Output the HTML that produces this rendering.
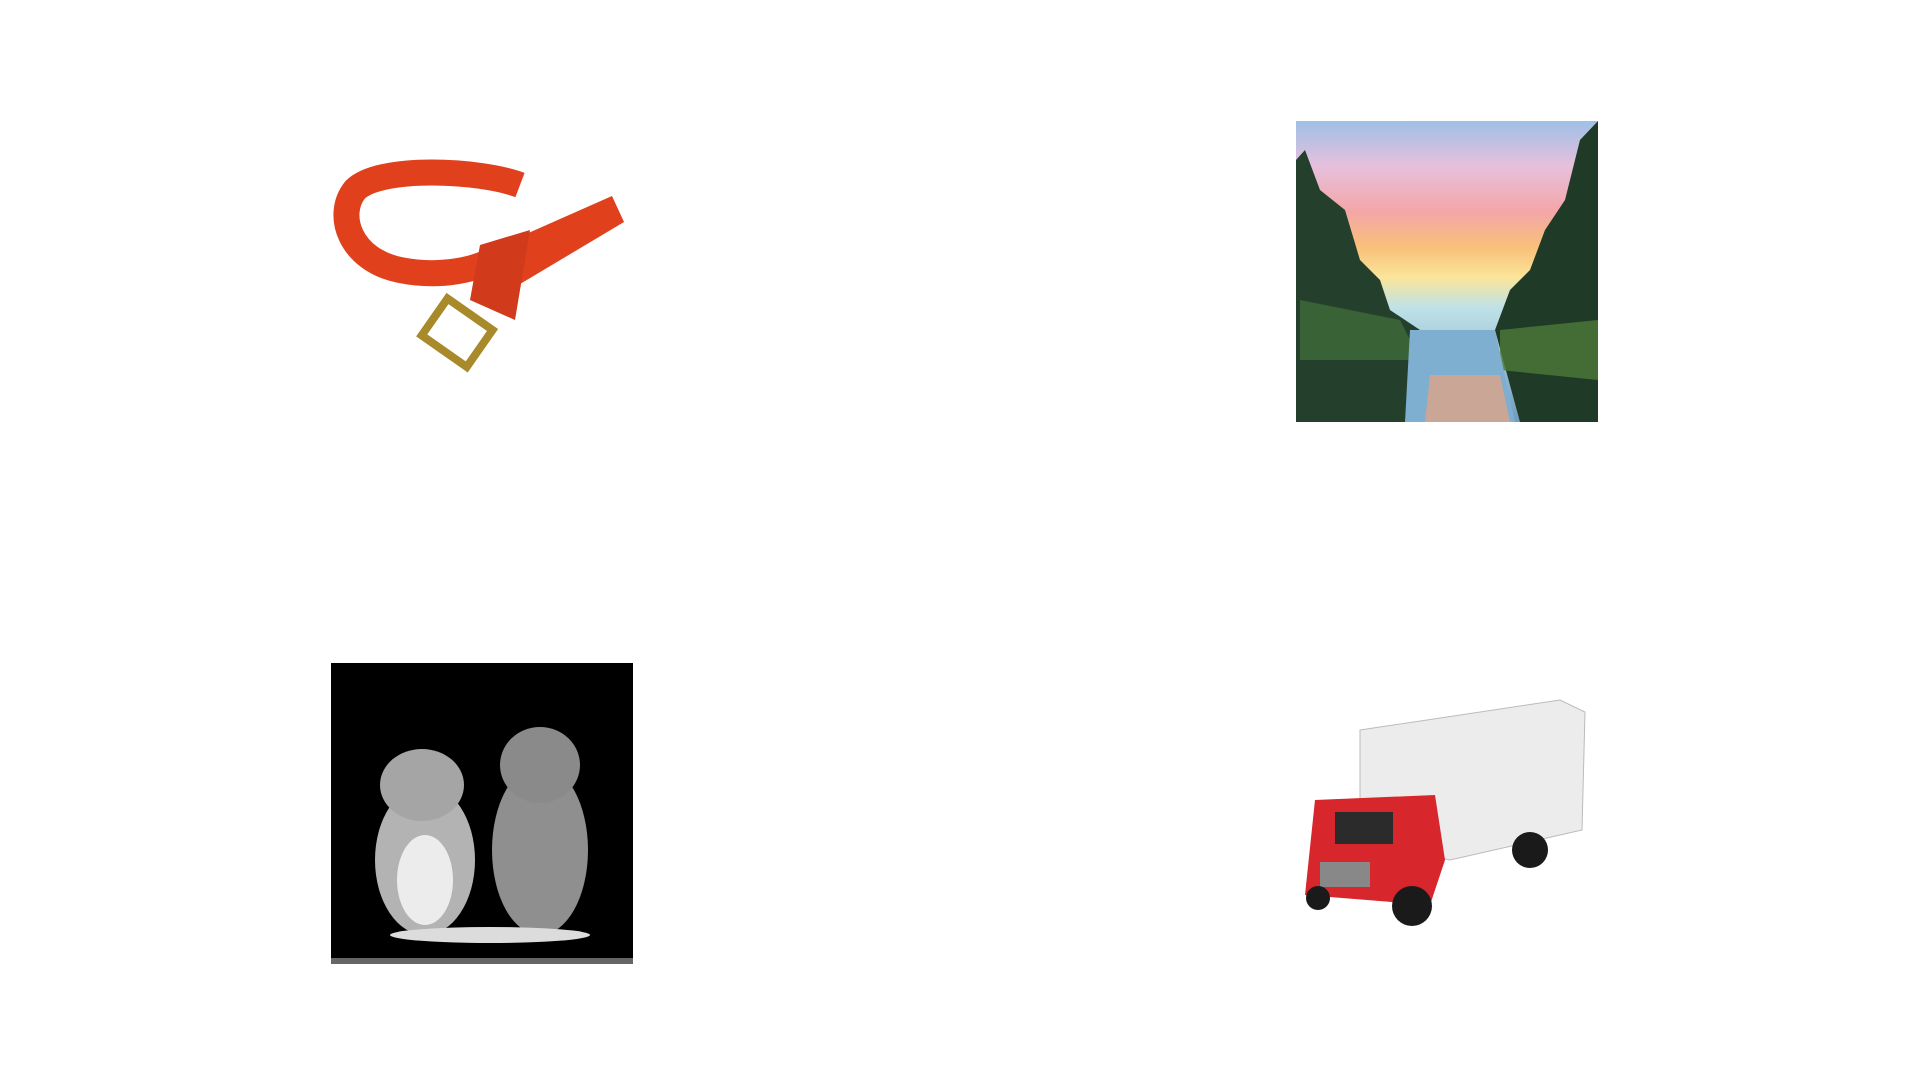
<!DOCTYPE html>
<html><head><meta charset="utf-8"><style>
html,body{margin:0;padding:0;background:#fff;width:1920px;height:1080px;overflow:hidden}
svg{position:absolute;left:0;top:0}
</style></head><body>
<svg width="1920" height="1080" viewBox="0 0 1920 1080">
<defs>
<linearGradient id="sky" x1="0" y1="0" x2="0" y2="1">
<stop offset="0" stop-color="#9fc0e6"/><stop offset="0.15" stop-color="#e6c0dc"/><stop offset="0.3" stop-color="#f4a6a8"/><stop offset="0.42" stop-color="#f8c07a"/><stop offset="0.52" stop-color="#fbe59a"/><stop offset="0.62" stop-color="#bfe2e8"/><stop offset="1" stop-color="#6f9cc0"/>
</linearGradient>
</defs>
<g>
<path d="M520 185 C480 170 380 165 355 190 C335 215 350 260 400 270 C440 278 480 270 500 255" fill="none" stroke="#e0401c" stroke-width="26"/>
<path d="M490 250 L612 196 L624 222 L510 290 Z" fill="#e0401c"/>
<path d="M480 245 L530 230 L515 320 L470 300 Z" fill="#d13a1a"/>
<rect x="430" y="310" width="55" height="45" fill="none" stroke="#a88a2a" stroke-width="8" transform="rotate(35 457 332)"/>
</g>
<g>
<rect x="1296" y="121" width="302" height="301" fill="url(#sky)"/>
<path d="M1296 160 L1305 150 L1320 190 L1345 210 L1360 260 L1380 280 L1390 310 L1420 330 L1410 422 L1296 422 Z" fill="#24402c"/>
<path d="M1598 121 L1580 140 L1565 200 L1545 230 L1530 270 L1510 290 L1495 330 L1520 422 L1598 422 Z" fill="#1f3a27"/>
<path d="M1300 300 L1400 320 L1420 360 L1300 360 Z" fill="#3f6b3a" opacity="0.8"/>
<path d="M1500 330 L1598 320 L1598 380 L1500 370 Z" fill="#4d7a3a" opacity="0.8"/>
<path d="M1410 330 L1495 330 L1515 422 L1405 422 Z" fill="#7eaed0"/>
<path d="M1430 375 L1500 375 L1510 422 L1425 422 Z" fill="#eaa37c" opacity="0.7"/>
</g>
<g>
<rect x="331" y="663" width="302" height="301" fill="#000"/>
<rect x="331" y="958" width="302" height="6" fill="#666"/>
<ellipse cx="425" cy="860" rx="50" ry="75" fill="#b3b3b3"/>
<ellipse cx="540" cy="850" rx="48" ry="85" fill="#8f8f8f"/>
<ellipse cx="422" cy="785" rx="42" ry="36" fill="#a5a5a5"/>
<ellipse cx="540" cy="765" rx="40" ry="38" fill="#8a8a8a"/>
<ellipse cx="425" cy="880" rx="28" ry="45" fill="#ececec"/>
<ellipse cx="490" cy="935" rx="100" ry="8" fill="#dcdcdc"/>
</g>
<g>
<path d="M1360 730 L1560 700 L1585 712 L1582 830 L1450 860 L1360 840 Z" fill="#ececec" stroke="#bbb"/>
<path d="M1315 800 L1435 795 L1445 860 L1430 905 L1305 895 Z" fill="#d7262c"/>
<rect x="1335" y="812" width="58" height="32" fill="#2b2b2b"/>
<rect x="1320" y="862" width="50" height="25" fill="#888"/>
<circle cx="1412" cy="906" r="20" fill="#1a1a1a"/>
<circle cx="1530" cy="850" r="18" fill="#1a1a1a"/>
<circle cx="1318" cy="898" r="12" fill="#1a1a1a"/>
</g>
</svg>
</body></html>
